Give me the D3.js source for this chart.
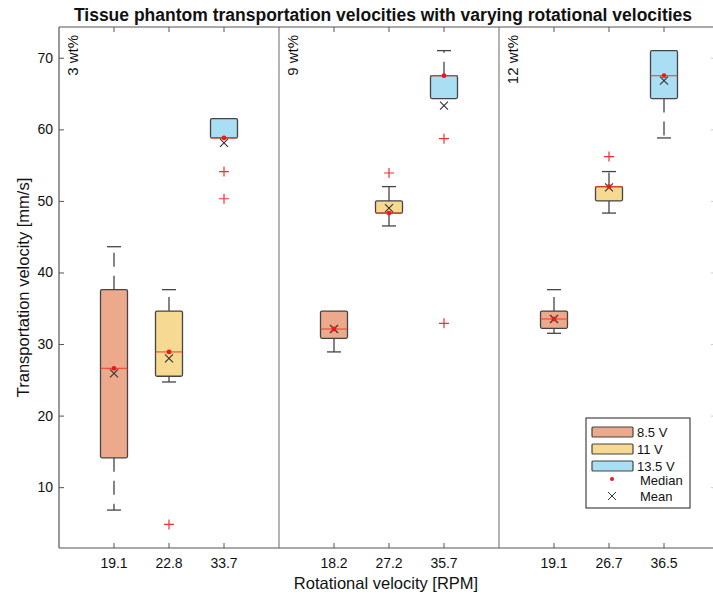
<!DOCTYPE html>
<html>
<head>
<meta charset="utf-8">
<script src="https://cdn.jsdelivr.net/npm/d3@7"></script>
<style>
  body { margin: 0; background: #fff; }
  text { font-family: "Liberation Sans", Arial, sans-serif; }
</style>
</head>
<body>
<script>
// chart values
var panels = ["3 wt%", "9 wt%", "12 wt%"];
var voltages = ["8.5 V", "11 V", "13.5 V"];
var rpm = [["19.1", "22.8", "33.7"], ["18.2", "27.2", "35.7"], ["19.1", "26.7", "36.5"]];
var yTicks = [10, 20, 30, 40, 50, 60, 70];

// box statistics, one row per panel, one column per voltage
var q1 = [[14.1, 25.5, 58.8], [30.8, 48.3, 64.3], [32.2, 50.0, 64.3]];
var q3 = [[37.6, 34.6, 61.5], [34.6, 50.0, 67.5], [34.6, 52.0, 71.0]];
var medians = [[26.6, 28.9, 58.8], [32.1, 48.3, 67.5], [33.5, 52.0, 67.5]];
var means = [[25.9, 28.0, 58.1], [32.1, 49.0, 63.3], [33.5, 51.9, 66.8]];
var whiskerLo = [[6.8, 24.7, 58.8], [28.9, 46.5, 64.3], [31.5, 48.3, 58.8]];
var whiskerHi = [[43.6, 37.6, 61.5], [34.6, 52.0, 71.0], [37.6, 54.1, 71.0]];
var outliers = [[[], [4.8], [54.1, 50.3]], [[], [53.9], [58.7, 32.9]], [[], [56.2], []]];

var W = 713, H = 598;
var margin = {left: 59, top: 27, right: -6, bottom: 50};
var plotW = W - margin.left - margin.right, plotH = H - margin.top - margin.bottom;
var fills = ["#eca98b", "#f6da92", "#a9def3"];
var axisColor = "#555";

var svg = d3.select("body").append("svg")
  .attr("width", W).attr("height", H);

var g = svg.append("g")
  .attr("transform", "translate(" + margin.left + "," + margin.top + ")");

var panelScale = d3.scaleBand().domain(d3.range(panels.length)).range([0, plotW]);
var yScale = d3.scaleLinear().domain([1.5, 74.3]).range([plotH, 0]);

// y axis (left) with inward ticks
var yAxis = d3.axisRight(yScale).tickValues(yTicks).tickSize(5).tickFormat("");
var yAxisNodes = g.append("g").call(yAxis);
styleAxisNodes(yAxisNodes, axisColor);
g.append("g").selectAll("text").data(yTicks).enter().append("text")
  .attr("x", -6).attr("y", function(d) { return yScale(d); })
  .attr("dy", "0.35em").attr("text-anchor", "end")
  .attr("font-size", 14).attr("fill", "#111")
  .text(function(d) { return d; });

// faint right-edge ticks
var rightAxisNodes = g.append("g").attr("transform", "translate(" + plotW + ",0)")
  .call(d3.axisLeft(yScale).tickValues(yTicks).tickSize(8).tickFormat(""));
styleAxisNodes(rightAxisNodes, "#ccc");

// bottom and top border lines
g.append("line").attr("x1", 0).attr("x2", plotW).attr("y1", plotH).attr("y2", plotH)
  .attr("stroke", axisColor).attr("stroke-width", 1.2);
g.append("line").attr("x1", 0).attr("x2", plotW).attr("y1", 0).attr("y2", 0)
  .attr("stroke", axisColor).attr("stroke-width", 1);

panels.forEach(function(p, pi) {
  var x0 = panelScale(pi);
  var xScale = d3.scaleLinear().domain([0, 4]).range([x0, x0 + panelScale.bandwidth()]);
  var pg = g.append("g");

  if (pi > 0) {
    pg.append("line").attr("x1", x0).attr("x2", x0).attr("y1", 0).attr("y2", plotH)
      .attr("stroke", "#666").attr("stroke-width", 1);
  }

  // ticks
  [1, 2, 3].forEach(function(t, ti) {
    var x = xScale(t);
    pg.append("line").attr("x1", x).attr("x2", x).attr("y1", plotH).attr("y2", plotH - 5)
      .attr("stroke", axisColor);
    pg.append("line").attr("x1", x).attr("x2", x).attr("y1", 0).attr("y2", 5)
      .attr("stroke", axisColor);
    pg.append("text").attr("x", x).attr("y", plotH + 20)
      .attr("text-anchor", "middle").attr("font-size", 14).attr("fill", "#111")
      .text(rpm[pi][ti]);
  });

  // panel label
  pg.append("text")
    .attr("transform", "translate(" + (x0 + 19) + ",8) rotate(-90)")
    .attr("text-anchor", "end").attr("font-size", 15).attr("fill", "#111")
    .text(p);

  var bw = 27, cw = 14;
  voltages.forEach(function(v, vi) {
    var cx = xScale(vi + 1);
    var bg = pg.append("g");
    // whiskers
    if (whiskerHi[pi][vi] > q3[pi][vi]) {
      bg.append("line").attr("x1", cx).attr("x2", cx)
        .attr("y1", yScale(q3[pi][vi])).attr("y2", yScale(whiskerHi[pi][vi]))
        .attr("stroke", "#444").attr("stroke-width", 1.3).attr("stroke-dasharray", "14,9");
      bg.append("line").attr("x1", cx - cw / 2).attr("x2", cx + cw / 2)
        .attr("y1", yScale(whiskerHi[pi][vi])).attr("y2", yScale(whiskerHi[pi][vi]))
        .attr("stroke", "#444").attr("stroke-width", 1.3);
    }
    if (whiskerLo[pi][vi] < q1[pi][vi]) {
      bg.append("line").attr("x1", cx).attr("x2", cx)
        .attr("y1", yScale(q1[pi][vi])).attr("y2", yScale(whiskerLo[pi][vi]))
        .attr("stroke", "#444").attr("stroke-width", 1.3).attr("stroke-dasharray", "14,9");
      bg.append("line").attr("x1", cx - cw / 2).attr("x2", cx + cw / 2)
        .attr("y1", yScale(whiskerLo[pi][vi])).attr("y2", yScale(whiskerLo[pi][vi]))
        .attr("stroke", "#444").attr("stroke-width", 1.3);
    }
    // box
    bg.append("rect")
      .attr("x", cx - bw / 2).attr("width", bw)
      .attr("y", yScale(q3[pi][vi]))
      .attr("height", yScale(q1[pi][vi]) - yScale(q3[pi][vi]))
      .attr("rx", 1.5)
      .attr("fill", fills[vi]).attr("stroke", "#444").attr("stroke-width", 1.3);
    // median line
    bg.append("line").attr("x1", cx - bw / 2).attr("x2", cx + bw / 2)
      .attr("y1", yScale(medians[pi][vi])).attr("y2", yScale(medians[pi][vi]))
      .attr("stroke", "#f0402a").attr("stroke-opacity", 0.8).attr("stroke-width", 1.3);
    // outliers
    outliers[pi][vi].forEach(function(o) {
      var oy = yScale(o);
      bg.append("path")
        .attr("d", "M" + (cx - 5) + "," + oy + "H" + (cx + 5) + "M" + cx + "," + (oy - 5) + "V" + (oy + 5))
        .attr("stroke", "#f03030").attr("stroke-width", 1.2).attr("fill", "none");
    });
    // mean
    var my = yScale(means[pi][vi]);
    bg.append("path")
      .attr("d", "M" + (cx - 4) + "," + (my - 4) + "L" + (cx + 4) + "," + (my + 4) +
        "M" + (cx - 4) + "," + (my + 4) + "L" + (cx + 4) + "," + (my - 4))
      .attr("stroke", "#333").attr("stroke-width", 1.1).attr("fill", "none");
    // median dot
    bg.append("circle").attr("cx", cx).attr("cy", yScale(medians[pi][vi])).attr("r", 2.4)
      .attr("fill", "#f01818");
  });
});

// left axis line on top
g.append("line").attr("x1", 0).attr("x2", 0).attr("y1", 0).attr("y2", plotH)
  .attr("stroke", axisColor).attr("stroke-width", 1.2);

// title and axis labels
svg.append("text").attr("x", 383).attr("y", 21)
  .attr("text-anchor", "middle").attr("font-size", 17.5).attr("font-weight", "bold")
  .attr("fill", "#111")
  .text("Tissue phantom transportation velocities with varying rotational velocities");
svg.append("text").attr("x", 386).attr("y", 589)
  .attr("text-anchor", "middle").attr("font-size", 16.5).attr("fill", "#111")
  .text("Rotational velocity [RPM]");
svg.append("text")
  .attr("transform", "translate(29," + (margin.top + plotH / 2) + ") rotate(-90)")
  .attr("text-anchor", "middle").attr("font-size", 16.5).attr("fill", "#111")
  .text("Transportation velocity [mm/s]");

// legend
var lg = svg.append("g").attr("transform", "translate(586,418)");
lg.append("rect").attr("width", 104).attr("height", 90)
  .attr("fill", "#fff").attr("stroke", "#444").attr("stroke-width", 1.2);
voltages.forEach(function(v, vi) {
  var ly = 9 + vi * 17;
  lg.append("rect").attr("x", 6).attr("y", ly).attr("width", 41).attr("height", 10)
    .attr("rx", 1).attr("fill", fills[vi]).attr("stroke", "#444").attr("stroke-width", 1.2);
  lg.append("text").attr("x", 51).attr("y", ly + 5).attr("dy", "0.35em")
    .attr("font-size", 13).attr("fill", "#111").text(v);
});
lg.append("circle").attr("cx", 26).attr("cy", 61).attr("r", 2).attr("fill", "#f01818");
lg.append("text").attr("x", 54).attr("y", 62).attr("dy", "0.35em")
  .attr("font-size", 13).attr("fill", "#111").text("Median");
lg.append("path").attr("d", "M22,74L30,82M22,82L30,74")
  .attr("stroke", "#333").attr("stroke-width", 1).attr("fill", "none");
lg.append("text").attr("x", 54).attr("y", 78).attr("dy", "0.35em")
  .attr("font-size", 13).attr("fill", "#111").text("Mean");

function styleAxisNodes(axisNodes, color) {
  axisNodes.selectAll(".domain").remove();
  axisNodes.selectAll(".tick line")
    .attr("fill", "none")
    .attr("stroke-width", 1)
    .attr("stroke", color);
}
</script>
</body>
</html>
